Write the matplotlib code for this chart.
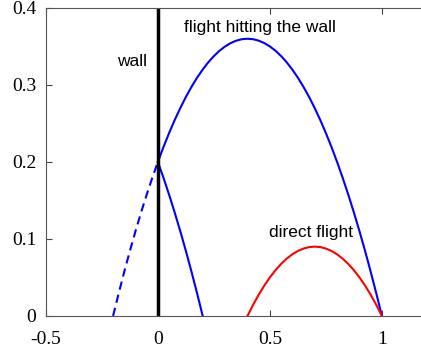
import matplotlib
matplotlib.use('Agg')
import matplotlib.pyplot as plt

# main flight (hits the wall at x=0)
x_main = [0.0, 0.025, 0.05, 0.075, 0.1, 0.125, 0.15, 0.175, 0.2, 0.225, 0.25, 0.275,
          0.3, 0.325, 0.35, 0.375, 0.4, 0.425, 0.45, 0.475, 0.5, 0.525, 0.55, 0.575,
          0.6, 0.625, 0.65, 0.675, 0.7, 0.725, 0.75, 0.775, 0.8, 0.825, 0.85, 0.875,
          0.9, 0.925, 0.95, 0.975, 1.0]
y_main = [0.2, 0.2194, 0.2375, 0.2544, 0.27, 0.2844, 0.2975, 0.3094, 0.32, 0.3294, 0.3375, 0.3444,
          0.35, 0.3544, 0.3575, 0.3594, 0.36, 0.3594, 0.3575, 0.3544, 0.35, 0.3444, 0.3375, 0.3294,
          0.32, 0.3094, 0.2975, 0.2844, 0.27, 0.2544, 0.2375, 0.2194, 0.2, 0.1794, 0.1575, 0.1344,
          0.11, 0.0844, 0.0575, 0.0294, 0.0]

# part behind the wall (dashed)
x_ghost = [-0.2, -0.175, -0.15, -0.125, -0.1, -0.075, -0.05, -0.025, 0.0]
y_ghost = [0.0, 0.0294, 0.0575, 0.0844, 0.11, 0.1344, 0.1575, 0.1794, 0.2]

# bounce back off the wall
x_bounce = [0.0, 0.025, 0.05, 0.075, 0.1, 0.125, 0.15, 0.175, 0.2]
y_bounce = [0.2, 0.1794, 0.1575, 0.1344, 0.11, 0.0844, 0.0575, 0.0294, 0.0]

# direct flight
x_direct = [0.4, 0.425, 0.45, 0.475, 0.5, 0.525, 0.55, 0.575, 0.6, 0.625, 0.65, 0.675, 0.7,
            0.725, 0.75, 0.775, 0.8, 0.825, 0.85, 0.875, 0.9, 0.925, 0.95, 0.975, 1.0]
y_direct = [0.0, 0.0144, 0.0275, 0.0394, 0.05, 0.0594, 0.0675, 0.0744, 0.08, 0.0844, 0.0875, 0.0894, 0.09,
            0.0894, 0.0875, 0.0844, 0.08, 0.0744, 0.0675, 0.0594, 0.05, 0.0394, 0.0275, 0.0144, 0.0]

wall_x = [0, 0]
wall_y = [0, 0.4]

xticks = [-0.5, 0, 0.5, 1]
xticklabels = ['-0.5', '0', '0.5', '1']
yticks = [0, 0.1, 0.2, 0.3, 0.4]
yticklabels = ['0', '0.1', '0.2', '0.3', '0.4']

fig = plt.figure(figsize=(4.21, 3.53), dpi=100)
ax = fig.add_axes([0.109, 0.105, 0.9045, 0.8725])

ax.plot(x_main, y_main, 'b-', lw=1.5)
ax.plot(x_ghost, y_ghost, 'b--', lw=1.5, dashes=(4, 2.5))
ax.plot(x_bounce, y_bounce, 'b-', lw=1.5)
ax.plot(x_direct, y_direct, 'r-', lw=1.5)
ax.plot(wall_x, wall_y, 'k-', lw=2.5)

tfont = dict(fontsize=12.5, family='Liberation Sans', ha='center', va='center')
ax.text(-0.116, 0.33, 'wall', **tfont)
ax.text(0.455, 0.374, 'flight hitting the wall', **tfont)
ax.text(0.683, 0.108, 'direct flight', **tfont)

ax.set_xlim(-0.5, 1.2)
ax.set_ylim(0, 0.4)
ax.set_xticks(xticks)
ax.set_xticklabels(xticklabels)
ax.set_yticks(yticks)
ax.set_yticklabels(yticklabels)
ax.tick_params(direction='in', length=4, top=True, right=False, colors='#444444',
               labelcolor='black', labelsize=14, width=0.8)
ax.tick_params(axis='x', pad=11)
ax.tick_params(axis='y', pad=7)
for lab in ax.get_xticklabels() + ax.get_yticklabels():
    lab.set_family('Liberation Serif')
for sp in ax.spines.values():
    sp.set_color('#555555')
    sp.set_linewidth(0.8)

fig.savefig('out.png', dpi=100)
